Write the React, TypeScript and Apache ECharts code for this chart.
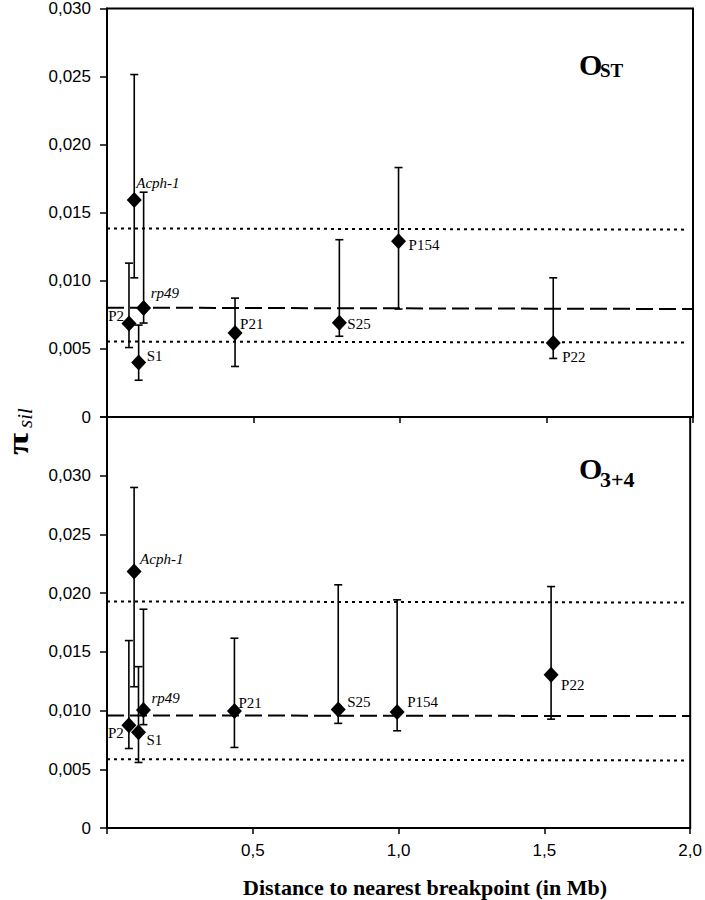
import React, { useEffect, useRef } from "react";
import * as echarts from "echarts";

// ---- data ----
const genes = ["P2", "Acph-1", "S1", "rp49", "P21", "S25", "P154", "P22"];
const distance = [0.075, 0.093, 0.108, 0.125, 0.437, 0.793, 0.995, 1.523];

const ostPi = [0.00686, 0.01593, 0.004, 0.008, 0.00617, 0.00693, 0.0129, 0.00544];
const ostLow = [0.0051, 0.01022, 0.0027, 0.0069, 0.00371, 0.00593, 0.00793, 0.0043];
const ostHigh = [0.0113, 0.02515, 0.00675, 0.01651, 0.00873, 0.01302, 0.01832, 0.01022];

const o34Pi = [0.00874, 0.02184, 0.00816, 0.01004, 0.00996, 0.0101, 0.00987, 0.01305];
const o34Low = [0.00677, 0.01203, 0.00558, 0.0088, 0.00686, 0.00891, 0.00828, 0.00927];
const o34High = [0.01596, 0.029, 0.01374, 0.01863, 0.01616, 0.02071, 0.01943, 0.02056];

const ostUpper = [[0, 0.01385], [1.98, 0.01376]];
const ostMean = [[0, 0.00803], [2.0, 0.00793]];
const ostLower = [[0, 0.00554], [1.98, 0.00547]];
const o34Upper = [[0, 0.01929], [1.98, 0.0192]];
const o34Mean = [[0, 0.00959], [2.0, 0.00953]];
const o34Lower = [[0, 0.00586], [1.98, 0.00575]];

const yTopMax = 0.03;
const yBottomMax = 0.035;
const yInterval = 0.005;
const xMax = 2.0;
const xInterval = 0.5;

// label placement (styles): offsets from the diamond centre
const topLabelStyle: Record<string, { side: string; offset: number[] }> = {
  P2: { side: "left", offset: [-5, -8] },
  "Acph-1": { side: "right", offset: [2, -17] },
  S1: { side: "right", offset: [8, -7] },
  rp49: { side: "right", offset: [7, -15] },
  P21: { side: "right", offset: [5, -9] },
  S25: { side: "right", offset: [8, 1] },
  P154: { side: "right", offset: [10, 4] },
  P22: { side: "right", offset: [9, 14] },
};
const bottomLabelStyle: Record<string, { side: string; offset: number[] }> = {
  P2: { side: "left", offset: [-5, 8] },
  "Acph-1": { side: "right", offset: [6, -13] },
  S1: { side: "right", offset: [8, 8] },
  rp49: { side: "right", offset: [8, -12] },
  P21: { side: "right", offset: [4, -8] },
  S25: { side: "right", offset: [9, -7] },
  P154: { side: "right", offset: [10, -10] },
  P22: { side: "right", offset: [10, 10] },
};

const SERIF = "Liberation Serif";
const SANS = "Liberation Sans";
const HALF = 7.5;

function yFmt(max: number) {
  return (v: number) => {
    if (v > max - 0.0001 && max > 0.031) return "";
    if (Math.abs(v) < 1e-9) return "0";
    return v.toFixed(3).replace(".", ",");
  };
}

function errorBarSeries(idx: number, low: number[], high: number[]) {
  const data = distance.map((x, i) => [x, low[i], high[i]]);
  return {
    type: "custom",
    xAxisIndex: idx,
    yAxisIndex: idx,
    z: 3,
    encode: { x: 0, y: [1, 2] },
    data,
    renderItem: (params: any, api: any) => {
      const x = api.value(0);
      const lo = api.coord([x, api.value(1)]);
      const hi = api.coord([x, api.value(2)]);
      const cw = 4;
      const style = { stroke: "#000", lineWidth: 1.6 };
      return {
        type: "group",
        children: [
          { type: "line", shape: { x1: lo[0], y1: lo[1], x2: hi[0], y2: hi[1] }, style },
          { type: "line", shape: { x1: lo[0] - cw, y1: lo[1], x2: lo[0] + cw, y2: lo[1] }, style },
          { type: "line", shape: { x1: hi[0] - cw, y1: hi[1], x2: hi[0] + cw, y2: hi[1] }, style },
        ],
      };
    },
  };
}

function pointSeries(idx: number, vals: number[], labelStyle: Record<string, { side: string; offset: number[] }>) {
  return {
    type: "scatter",
    xAxisIndex: idx,
    yAxisIndex: idx,
    z: 5,
    symbol: "diamond",
    symbolSize: [15, 16],
    itemStyle: { color: "#000", opacity: 1 },
    label: {
      show: true,
      color: "#000",
      fontFamily: SERIF,
      fontSize: 15,
      distance: 0,
      textBorderWidth: 0,
    },
    data: distance.map((x, i) => {
      const name = genes[i];
      const ls = labelStyle[name];
      const italic = name === "Acph-1" || name === "rp49";
      const dx = ls.side === "left" ? ls.offset[0] + HALF : ls.offset[0] - HALF;
      return {
        value: [x, vals[i]],
        name,
        label: {
          show: true,
          position: ls.side,
          formatter: name,
          offset: [dx, ls.offset[1]],
          color: "#000",
          fontFamily: SERIF,
          fontSize: 15,
          fontStyle: italic ? "italic" : "normal",
          textBorderWidth: 0,
        },
      };
    }),
  };
}

function refLine(idx: number, data: number[][], kind: "dot" | "dash") {
  return {
    type: "line",
    xAxisIndex: idx,
    yAxisIndex: idx,
    z: 2,
    symbol: "none",
    data,
    lineStyle: {
      color: "#000",
      width: 2,
      type: kind === "dot" ? [3, 4] : [17, 6],
    },
  };
}

export default function App() {
  const ref = useRef<HTMLDivElement>(null);
  useEffect(() => {
    if (!ref.current) return;
    const chart = echarts.init(ref.current, null, { renderer: "svg" });
    const axisLine = { show: true, lineStyle: { color: "#000", width: 2 } };
    const xBase = {
      type: "value",
      min: 0,
      max: xMax,
      interval: xInterval,
      splitLine: { show: false },
      axisLine,
      axisTick: { show: true, inside: false, length: 6, lineStyle: { color: "#000", width: 1.5 } },
    };
    const yBase = {
      type: "value",
      min: 0,
      interval: yInterval,
      splitLine: { show: false },
      axisLine,
      axisTick: { show: true, inside: false, length: 7, lineStyle: { color: "#000", width: 1.5 } },
    };
    chart.setOption({
      animation: false,
      backgroundColor: "#fff",
      grid: [
        { left: 107, top: 7, width: 586, height: 410, show: true, borderColor: "#000", borderWidth: 2, backgroundColor: "transparent" },
        { left: 107, top: 417, width: 586, height: 411, show: true, borderColor: "#000", borderWidth: 2, backgroundColor: "transparent" },
      ],
      xAxis: [
        { ...xBase, gridIndex: 0, axisLabel: { show: false } },
        {
          ...xBase,
          gridIndex: 1,
          axisLabel: {
            show: true,
            margin: 14,
            color: "#000",
            fontFamily: SANS,
            fontSize: 17,
            formatter: (v: number) => (Math.abs(v) < 1e-9 ? "" : v.toFixed(1).replace(".", ",")),
          },
        },
      ],
      yAxis: [
        {
          ...yBase,
          gridIndex: 0,
          max: yTopMax,
          axisLabel: { margin: 16, color: "#000", fontFamily: SANS, fontSize: 17, formatter: yFmt(yTopMax) },
        },
        {
          ...yBase,
          gridIndex: 1,
          max: yBottomMax,
          axisLabel: { margin: 16, color: "#000", fontFamily: SANS, fontSize: 17, formatter: yFmt(yBottomMax) },
        },
      ],
      graphic: [
        {
          type: "group",
          x: 0,
          y: 455,
          rotation: Math.PI / 2,
          children: [
            {
              type: "text",
              x: 0,
              y: 18,
              scaleX: 1.35,
              style: { text: "π", fontFamily: SERIF, fontSize: 30, fontWeight: "bold", fill: "#000", align: "left", verticalAlign: "middle" },
            },
            {
              type: "text",
              x: 27,
              y: 25,
              style: { text: "sil", fontFamily: SERIF, fontSize: 21, fontStyle: "italic", fill: "#000", align: "left", verticalAlign: "middle" },
            },
          ],
        },
        {
          type: "text",
          x: 425,
          y: 887,
          style: { text: "Distance to nearest breakpoint (in Mb)", fontFamily: SERIF, fontSize: 22, fontWeight: "bold", fill: "#000", align: "center", verticalAlign: "middle" },
        },
        {
          type: "text",
          x: 579,
          y: 64,
          style: { text: "O", fontFamily: SERIF, fontSize: 30, fontWeight: "bold", fill: "#000", align: "left", verticalAlign: "middle" },
        },
        {
          type: "text",
          x: 600,
          y: 70,
          style: { text: "ST", fontFamily: SERIF, fontSize: 19, fontWeight: "bold", fill: "#000", align: "left", verticalAlign: "middle" },
        },
        {
          type: "text",
          x: 579,
          y: 468,
          style: { text: "O", fontFamily: SERIF, fontSize: 30, fontWeight: "bold", fill: "#000", align: "left", verticalAlign: "middle" },
        },
        {
          type: "text",
          x: 600,
          y: 479,
          style: { text: "3+4", fontFamily: SERIF, fontSize: 22, fontWeight: "bold", fill: "#000", align: "left", verticalAlign: "middle" },
        },
      ],
      series: [
        refLine(0, ostUpper, "dot"),
        refLine(0, ostMean, "dash"),
        refLine(0, ostLower, "dot"),
        errorBarSeries(0, ostLow, ostHigh),
        pointSeries(0, ostPi, topLabelStyle),
        refLine(1, o34Upper, "dot"),
        refLine(1, o34Mean, "dash"),
        refLine(1, o34Lower, "dot"),
        errorBarSeries(1, o34Low, o34High),
        pointSeries(1, o34Pi, bottomLabelStyle),
      ],
    });
    return () => chart.dispose();
  }, []);
  return <div ref={ref} style={{ position: "absolute", left: 0, top: 0, width: 705, height: 900 }} />;
}
